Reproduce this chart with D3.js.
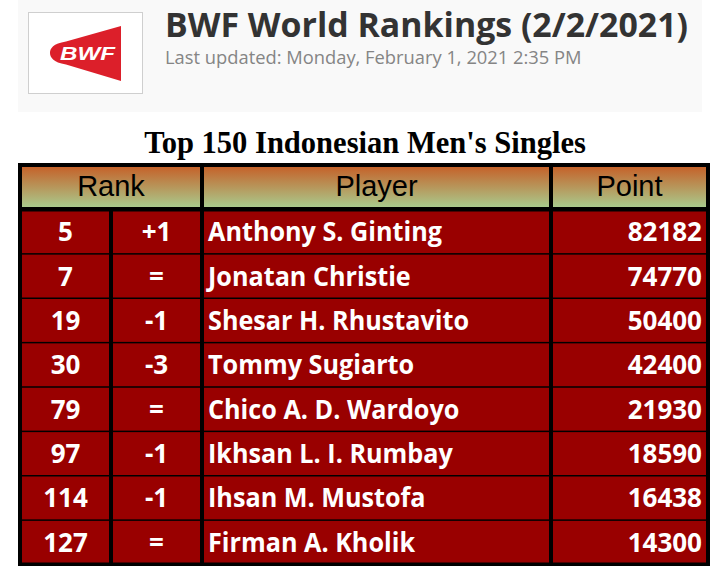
<!DOCTYPE html>
<html>
<head>
<meta charset="utf-8">
<script src="https://cdn.jsdelivr.net/npm/d3@7"></script>
<style>
  body { margin: 0; background: #fff; }
</style>
</head>
<body>
<div class="canva"></div>
<script>
// Data
const headers = ['Rank', 'Player', 'Point'];
const ranks = [5, 7, 19, 30, 79, 97, 114, 127];
const changes = ['+1', '=', '-1', '-3', '=', '-1', '-1', '='];
const players = ['Anthony S. Ginting', 'Jonatan Christie', 'Shesar H. Rhustavito', 'Tommy Sugiarto',
                 'Chico A. D. Wardoyo', 'Ikhsan L. I. Rumbay', 'Ihsan M. Mustofa', 'Firman A. Kholik'];
const points = [82182, 74770, 50400, 42400, 21930, 18590, 16438, 14300];

const pageTitle = 'BWF World Rankings (2/2/2021)';
const pageSub = 'Last updated: Monday, February 1, 2021 2:35 PM';
const tableTitle = "Top 150 Indonesian Men's Singles";

const width = 725, height = 581;

const svg = d3.select('.canva').append('svg')
              .attr('width', width)
              .attr('height', height);

// shrink / grow a text's font until it spans w pixels
function fitWidth(sel, w) {
  const node = sel.node();
  const fs = parseFloat(sel.attr('font-size'));
  const cur = node.getComputedTextLength();
  if (cur > 0) sel.attr('font-size', fs * w / cur);
}

// Banner
svg.append('rect')
   .attr('x', 18).attr('y', 0)
   .attr('width', 684).attr('height', 112)
   .attr('fill', '#f9f9f9');

svg.append('rect')
   .attr('x', 28.5).attr('y', 12.5)
   .attr('width', 114).attr('height', 81)
   .attr('fill', '#fff')
   .attr('stroke', '#cfcfcf');

svg.append('path')
   .attr('d', 'M121,26 L121,81 L66,64.5 C53,62.5 50,57 50,53 C50,48.5 53,43.5 66,41.5 Z')
   .attr('fill', '#dc1f2a');

svg.append('text')
   .attr('x', 60).attr('y', 60)
   .attr('font-family', 'Liberation Sans, Arial, sans-serif')
   .attr('font-weight', 'bold')
   .attr('font-style', 'italic')
   .attr('font-size', 18.5)
   .attr('textLength', 55)
   .attr('lengthAdjust', 'spacingAndGlyphs')
   .attr('fill', '#fff')
   .text('BWF');

const t1 = svg.append('text')
   .attr('x', 165).attr('y', 37)
   .attr('font-family', 'Open Sans, sans-serif')
   .attr('font-weight', 'bold')
   .attr('font-size', 31)
   .attr('fill', '#333')
   .text(pageTitle);
fitWidth(t1, 523);

const t2 = svg.append('text')
   .attr('x', 165).attr('y', 64)
   .attr('font-family', 'Open Sans, sans-serif')
   .attr('font-size', 17)
   .attr('fill', '#858585')
   .text(pageSub);
fitWidth(t2, 417);

// Table title
const t3 = svg.append('text')
   .attr('x', 365).attr('y', 153)
   .attr('text-anchor', 'middle')
   .attr('font-family', 'Liberation Serif, Times New Roman, serif')
   .attr('font-weight', 'bold')
   .attr('font-size', 28)
   .attr('fill', '#000')
   .text(tableTitle);
fitWidth(t3, 442);

// Table
const colEdges = [20, 111, 202, 551, 708];
const y = d3.scaleBand()
            .domain(players)
            .range([209.5, 564.5]);

const grad = svg.append('defs').append('linearGradient')
   .attr('id', 'hdr')
   .attr('x1', 0).attr('y1', 0).attr('x2', 0).attr('y2', 1);
grad.append('stop').attr('offset', '0%').attr('stop-color', '#c5622a');
grad.append('stop').attr('offset', '100%').attr('stop-color', '#a9ca8c');

svg.append('rect')
   .attr('x', 18).attr('y', 163)
   .attr('width', 692).attr('height', 403)
   .attr('fill', '#000');

// header cells
const hdrCells = [
  {label: headers[0], x0: colEdges[0], x1: colEdges[2]},
  {label: headers[1], x0: colEdges[2], x1: colEdges[3]},
  {label: headers[2], x0: colEdges[3], x1: colEdges[4]}
];
const hdr = svg.append('g');
hdr.selectAll('rect')
   .data(hdrCells)
   .enter()
   .append('rect')
   .attr('x', d => d.x0 + 2)
   .attr('y', 167)
   .attr('width', d => d.x1 - d.x0 - 4)
   .attr('height', 40)
   .attr('fill', 'url(#hdr)');
hdr.selectAll('text')
   .data(hdrCells)
   .enter()
   .append('text')
   .attr('x', d => (d.x0 + d.x1) / 2)
   .attr('y', 196)
   .attr('text-anchor', 'middle')
   .attr('font-family', 'Liberation Sans, Arial, sans-serif')
   .attr('font-size', 29)
   .attr('fill', '#000')
   .text(d => d.label);

// data rows
const n = players.length;
const rows = svg.append('g').selectAll('g')
   .data(players.map((p, i) => ({i, rank: ranks[i], change: changes[i], player: p, point: points[i]})))
   .enter()
   .append('g');

const rowTop = d => y(d.player) + (d.i === 0 ? 2 : 0.75);
const rowBot = d => y(d.player) + y.bandwidth() - (d.i === n - 1 ? 2 : 0.75);

for (let c = 0; c < 4; c++) {
  rows.append('rect')
      .attr('x', colEdges[c] + 2)
      .attr('y', rowTop)
      .attr('width', colEdges[c + 1] - colEdges[c] - 4)
      .attr('height', d => rowBot(d) - rowTop(d))
      .attr('fill', '#990000');
}

const cellFont = 'Open Sans, sans-serif';
const baseY = d => y(d.player) + y.bandwidth() / 2 + 9.5;

function cellText(sel) {
  return sel.attr('y', baseY)
            .attr('font-family', cellFont)
            .attr('font-weight', 'bold')
            .attr('font-size', 26)
            .attr('fill', '#fff');
}

cellText(rows.append('text'))
   .attr('x', (colEdges[0] + colEdges[1]) / 2)
   .attr('text-anchor', 'middle')
   .text(d => d.rank);

cellText(rows.append('text'))
   .attr('x', (colEdges[1] + colEdges[2]) / 2)
   .attr('text-anchor', 'middle')
   .text(d => d.change);

const names = cellText(rows.append('text'))
   .attr('x', colEdges[2] + 6)
   .text(d => d.player);

// the names in the reference use a narrower face: squeeze them all by one factor
const nameW = names.nodes().map(el => el.getComputedTextLength());
const squeeze = 234 / nameW[0];
names.attr('textLength', (d, i) => nameW[i] * squeeze)
     .attr('lengthAdjust', 'spacingAndGlyphs');

cellText(rows.append('text'))
   .attr('x', colEdges[4] - 6)
   .attr('text-anchor', 'end')
   .text(d => d.point);
</script>
</body>
</html>
